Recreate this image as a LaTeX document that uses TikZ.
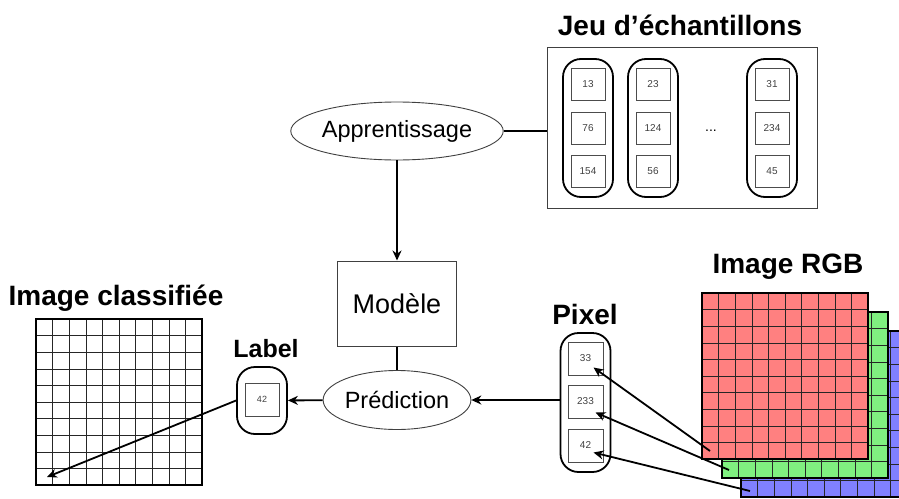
\documentclass[tikz,border=0pt]{standalone}
\usepackage{fontspec}
\setmainfont{Liberation Sans}
\usetikzlibrary{shapes.geometric, arrows.meta, positioning, calc}

\definecolor{redlayer}{RGB}{255,128,128}
\definecolor{greenlayer}{RGB}{128,240,128}
\definecolor{bluelayer}{RGB}{128,128,255}

% 10x10 pixel grid: x, y, fill colour
\newcommand{\pixgrid}[3]{%
  \fill[#3] (#1,#2) rectangle ++(166,166);
  \foreach \k in {1,...,9}{
    \draw[line width=0.5pt, black!85] ($(#1,#2)+(\k*16.6,0)$) -- ++(0,166);
    \draw[line width=0.5pt, black!85] ($(#1,#2)+(0,\k*16.6)$) -- ++(166,0);
  }
  \draw[line width=1.2pt] (#1,#2) rectangle ++(166,166);
}

\begin{document}
\begin{tikzpicture}[
      x=1pt, y=-1pt,
      title/.style={font=\fontsize{28}{32}\selectfont\bfseries},
      proc/.style={ellipse, draw=black!75, line width=0.9pt, fill=white, inner sep=0pt, font=\fontsize{23.5}{28}\selectfont},
      holder/.style={rectangle, draw, line width=1.8pt, rounded corners=18pt, minimum width=50pt},
      cell/.style={rectangle, draw=black!70, line width=1pt, minimum width=34pt, minimum height=32pt, inner sep=0pt, font=\fontsize{10}{12}\selectfont, text=black!75},
      arrow/.style={-{Stealth[length=10pt,width=9pt]}, line width=1.8pt},
      link/.style={line width=1.8pt}
    ]
    \clip (0,0) rectangle (899,498);

    % training set
    \node[rectangle, draw=black!75, line width=0.8pt, minimum width=270pt, minimum height=161pt] (samples) at (682,127.5) {};
    \node[title] (samplestitle) at (680,25) {Jeu d’échantillons};
    \foreach \i/\cx/\a/\b/\c in {1/588/13/76/154, 2/653/23/124/56, 3/772/31/234/45}{
      \node[holder, minimum height=138pt] (col\i) at (\cx,128) {};
      \node[cell] (col\i-a) at (\cx,84) {\a};
      \node[cell] (col\i-b) at (\cx,128) {\b};
      \node[cell] (col\i-c) at (\cx,171) {\c};
    }
    \node[font=\fontsize{14}{16}\selectfont] (etc) at (711,131) {...};

    % process
    \node[proc, minimum width=171pt, minimum height=58pt] (learn) at (397,131) {Apprentissage};
    \node[rectangle, draw=black!75, line width=1pt, minimum width=119pt, minimum height=85pt, font=\fontsize{27}{32}\selectfont] (model) at (397,303.5) {Modèle};
    \node[proc, minimum width=147pt, minimum height=59pt] (predict) at (397,400) {Prédiction};

    \draw[link] (learn.east) -- (learn.east -| samples.west);
    \draw[arrow] (learn) -- (model);
    \draw[link] (model) -- (predict);

    % pixel
    \node[title] (pixtitle) at (585,314) {Pixel};
    \node[holder, minimum height=139pt] (pixcol) at (585.5,402.5) {};
    \node[cell, minimum width=35pt, minimum height=33pt] (p1) at (585.5,358.5) {33};
    \node[cell, minimum width=35pt, minimum height=33pt] (p2) at (585.5,401.5) {233};
    \node[cell, minimum width=35pt, minimum height=33pt] (p3) at (585.5,445.5) {42};
    \draw[arrow] (pixcol.west |- predict.east) -- (predict.east);

    % label
    \node[title, font=\fontsize{25}{30}\selectfont\bfseries] (labtitle) at (266,349) {Label};
    \node[holder, minimum height=67pt] (labcol) at (262,400.5) {};
    \node[cell, minimum height=33pt, font=\fontsize{9}{11}\selectfont] (lab) at (262,399.5) {42};
    \draw[arrow] (predict) -- (labcol);

    % classified image
    \node[title] (classtitle) at (116,298) {Image classifiée};
    \begin{scope}
      \fill[white] (36,319) rectangle ++(166,166);
      \foreach \k in {1,...,9}{
        \draw[line width=0.5pt, black!85] ($(36,319)+(\k*16.6,0)$) -- ++(0,166);
        \draw[line width=0.5pt, black!85] ($(36,319)+(0,\k*16.6)$) -- ++(166,0);
      }
      \draw[line width=1.2pt] (36,319) rectangle ++(166,166);
    \end{scope}
    \coordinate (outpix) at (47,477);
    \draw[arrow] (labcol.west) -- (outpix);

    % RGB image
    \node[title] (rgbtitle) at (788,267) {Image RGB};
    \pixgrid{741}{331}{bluelayer}
    \pixgrid{722}{312}{greenlayer}
    \pixgrid{702}{293}{redlayer}
    \coordinate (redpix) at (710,451);
    \coordinate (greenpix) at (729,470);
    \coordinate (bluepix) at (750,491);
    \draw[arrow] (redpix) -- ($(p1.center)+(8,9)$);
    \draw[arrow] (greenpix) -- ($(p2.center)+(10,11)$);
    \draw[arrow] (bluepix) -- ($(p3.center)+(8,7)$);
  \end{tikzpicture}
\end{document}
